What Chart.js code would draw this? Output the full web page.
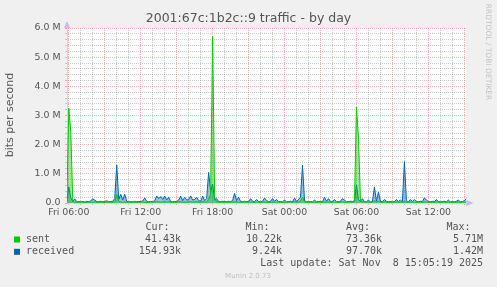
<!DOCTYPE html>
<html>
<head>
<meta charset="utf-8">
<script src="https://cdn.jsdelivr.net/npm/chart.js@4"></script>
<style>
  html, body { margin: 0; padding: 0; background: #F0F0F0; }
  canvas { display: block; }
</style>
</head>
<body>
<canvas id="traffic-chart" width="497" height="287"></canvas>
<script>
// Samples every 10 minutes, starting Fri 05:50 (hours counted from Fri 00:00)
const startHour = 5 + 50 / 60;
const stepHours = 10 / 60;

// received, Mbit/s
const received = [
  0.08,
  0.55, 0.18, 0.05, 0.14, 0.04, 0.05,   // Fri 06
  0.04, 0.05, 0.03, 0.06, 0.04, 0.08,
  0.14, 0.10, 0.05, 0.04, 0.06, 0.04,
  0.05, 0.08, 0.04, 0.05, 0.06, 0.15,
  1.30, 0.12, 0.30, 0.10, 0.30, 0.06,   // Fri 10
  0.04, 0.05, 0.03, 0.06, 0.04, 0.05,
  0.05, 0.07, 0.17, 0.06, 0.04, 0.05,   // Fri 12
  0.04, 0.08, 0.24, 0.15, 0.22, 0.12,
  0.24, 0.10, 0.20, 0.05, 0.04, 0.05,
  0.05, 0.10, 0.24, 0.08, 0.20, 0.10,
  0.12, 0.24, 0.10, 0.12, 0.20, 0.08,
  0.06, 0.24, 0.08, 0.15, 1.05, 0.40,
  0.65, 0.10, 0.15, 0.05, 0.04, 0.06,   // Fri 18
  0.05, 0.04, 0.06, 0.05, 0.08, 0.33,
  0.08, 0.20, 0.05, 0.04, 0.06, 0.05,
  0.05, 0.15, 0.06, 0.04, 0.12, 0.05,
  0.04, 0.06, 0.17, 0.08, 0.05, 0.06,
  0.15, 0.06, 0.12, 0.04, 0.05, 0.04,
  0.10, 0.04, 0.05, 0.06, 0.04, 0.17,   // Sat 00
  0.05, 0.12, 0.20, 1.30, 0.08, 0.05,
  0.04, 0.05, 0.04, 0.10, 0.04, 0.05,
  0.05, 0.04, 0.20, 0.06, 0.15, 0.05,
  0.04, 0.12, 0.05, 0.04, 0.06, 0.15,
  0.10, 0.04, 0.05, 0.06, 0.05, 0.08,
  0.62, 0.12, 0.05, 0.15, 0.05, 0.04,   // Sat 06
  0.10, 0.04, 0.05, 0.55, 0.06, 0.38,
  0.05, 0.04, 0.12, 0.06, 0.04, 0.05,
  0.04, 0.05, 0.12, 0.05, 0.10, 0.04,
  1.42, 0.08, 0.04, 0.12, 0.05, 0.12,
  0.05, 0.04, 0.06, 0.05, 0.18, 0.10,
  0.05, 0.04, 0.06, 0.04, 0.12, 0.05,   // Sat 12
  0.04, 0.05, 0.06, 0.04, 0.10, 0.04,
  0.05, 0.04, 0.06, 0.10, 0.04, 0.05,
  0.08, 0.155
];

// sent, Mbit/s
const sent = [
  0.04,
  3.25, 2.45, 0.05, 0.03, 0.04, 0.03,   // Fri 06
  0.03, 0.04, 0.03, 0.02, 0.04, 0.03,
  0.03, 0.04, 0.02, 0.03, 0.04, 0.03,
  0.02, 0.03, 0.04, 0.03, 0.02, 0.04,
  0.30, 0.05, 0.04, 0.03, 0.04, 0.03,   // Fri 10
  0.03, 0.02, 0.04, 0.03, 0.03, 0.02,
  0.03, 0.04, 0.03, 0.02, 0.03, 0.04,   // Fri 12
  0.03, 0.04, 0.05, 0.04, 0.03, 0.04,
  0.04, 0.03, 0.05, 0.03, 0.02, 0.03,
  0.03, 0.04, 0.05, 0.03, 0.04, 0.03,
  0.04, 0.05, 0.03, 0.04, 0.05, 0.03,
  0.03, 0.05, 0.03, 0.04, 0.12, 0.30,
  5.71, 0.20, 0.04, 0.03, 0.02, 0.03,   // Fri 18
  0.03, 0.02, 0.03, 0.04, 0.03, 0.05,
  0.04, 0.03, 0.02, 0.03, 0.04, 0.03,
  0.03, 0.04, 0.03, 0.02, 0.03, 0.03,
  0.02, 0.03, 0.04, 0.03, 0.02, 0.03,
  0.04, 0.03, 0.03, 0.02, 0.03, 0.02,
  0.03, 0.02, 0.03, 0.04, 0.03, 0.05,   // Sat 00
  0.03, 0.04, 0.06, 0.20, 0.04, 0.03,
  0.02, 0.03, 0.02, 0.03, 0.02, 0.03,
  0.03, 0.02, 0.04, 0.03, 0.04, 0.03,
  0.02, 0.03, 0.03, 0.02, 0.03, 0.04,
  0.03, 0.02, 0.03, 0.04, 0.03, 0.05,
  3.29, 2.26, 0.08, 0.05, 0.04, 0.03,   // Sat 06
  0.04, 0.03, 0.04, 0.08, 0.03, 0.06,
  0.03, 0.02, 0.04, 0.03, 0.02, 0.03,
  0.02, 0.03, 0.04, 0.03, 0.04, 0.03,
  0.06, 0.03, 0.02, 0.04, 0.03, 0.03,
  0.02, 0.03, 0.03, 0.02, 0.05, 0.03,
  0.03, 0.02, 0.03, 0.02, 0.04, 0.03,   // Sat 12
  0.02, 0.03, 0.03, 0.02, 0.03, 0.02,
  0.03, 0.02, 0.03, 0.04, 0.02, 0.03,
  0.03, 0.04
];

const times = received.map((_, i) => startHour + i * stepHours);

// legend table
const seriesNames = ['sent', 'received'];
const seriesColors = ['#00CC00', '#0066B3'];
const statHeaders = ['Cur:', 'Min:', 'Avg:', 'Max:'];
const statValues = [
  ['41.43k', '10.22k', '73.36k', '5.71M'],
  ['154.93k', '9.24k', '97.70k', '1.42M']
];
const lastUpdate = 'Last update: Sat Nov  8 15:05:19 2025';
const chartTitle = '2001:67c:1b2c::9 traffic - by day';
const yTitle = 'bits per second';

const gridColor = 'rgba(140, 140, 140, 0.45)';
const majorGridColor = 'rgba(240, 110, 110, 0.55)';
const axisColor = '#CFD6F8';
const fontColor = '#555555';

function isWhole(v) {
  return Math.abs(v - Math.round(v)) < 1e-6;
}

const muninDecor = {
  id: 'muninDecor',
  beforeDraw(chart) {
    const { ctx, chartArea: a } = chart;
    ctx.save();
    ctx.fillStyle = '#F0F0F0';
    ctx.fillRect(0, 0, chart.width, chart.height);
    ctx.fillStyle = '#FFFFFF';
    ctx.fillRect(a.left, a.top, a.right - a.left, a.bottom - a.top);
    ctx.restore();
  },
  afterDraw(chart) {
    const { ctx, chartArea: a } = chart;
    ctx.save();
    ctx.fillStyle = fontColor;
    ctx.textBaseline = 'middle';

    // title
    ctx.font = '12.5px "DejaVu Sans"';
    ctx.textAlign = 'center';
    ctx.fillText(chartTitle, 248.5, 19);

    // y axis title
    ctx.save();
    ctx.translate(10, 115);
    ctx.rotate(-Math.PI / 2);
    ctx.font = '11px "DejaVu Sans"';
    ctx.fillText(yTitle, 0, 0);
    ctx.restore();

    // rrdtool credit
    ctx.save();
    ctx.translate(488, 52);
    ctx.rotate(Math.PI / 2);
    ctx.font = '7.5px "DejaVu Sans"';
    ctx.fillStyle = '#C4C4C4';
    ctx.fillText('RRDTOOL / TOBI OETIKER', 0, 0);
    ctx.restore();

    // axis arrows
    ctx.fillStyle = '#B8C0F4';
    ctx.beginPath();
    ctx.moveTo(a.right, a.bottom - 3);
    ctx.lineTo(a.right + 7, a.bottom);
    ctx.lineTo(a.right, a.bottom + 3);
    ctx.fill();
    ctx.beginPath();
    ctx.moveTo(a.left - 3, a.top);
    ctx.lineTo(a.left, a.top - 7);
    ctx.lineTo(a.left + 3, a.top);
    ctx.fill();

    // legend
    ctx.fillStyle = fontColor;
    ctx.font = '10px "DejaVu Sans Mono"';
    ctx.textAlign = 'left';
    const headerX = [145.5, 245.5, 346, 446.5];
    const valueRight = [181, 282, 382, 483];
    statHeaders.forEach((h, i) => ctx.fillText(h, headerX[i], 227.5));
    seriesNames.forEach((name, r) => {
      const y = 239.5 + r * 12.3;
      ctx.fillStyle = seriesColors[r];
      ctx.fillRect(14, y - 3, 6, 6);
      ctx.fillStyle = fontColor;
      ctx.textAlign = 'left';
      ctx.fillText(name, 26, y);
      ctx.textAlign = 'right';
      statValues[r].forEach((v, i) => ctx.fillText(v, valueRight[i], y));
    });
    ctx.textAlign = 'right';
    ctx.fillText(lastUpdate, 483, 263.5);

    ctx.textAlign = 'center';
    ctx.fillStyle = '#C0C0C0';
    ctx.font = '7px "DejaVu Sans"';
    ctx.fillText('Munin 2.0.73', 248, 276);
    ctx.restore();
  }
};

const canvas = document.getElementById('traffic-chart');
const chart = new Chart(canvas, {
  type: 'line',
  data: {
    datasets: [{
      label: 'sent',
      data: sent.map((v, i) => ({ x: times[i], y: v })),
      borderColor: '#00CC00',
      backgroundColor: 'rgba(0, 204, 0, 0.4)',
      borderWidth: 1,
      fill: 'origin',
      pointRadius: 0,
      tension: 0,
      order: 0
    }, {
      label: 'received',
      data: received.map((v, i) => ({ x: times[i], y: v })),
      borderColor: '#0066B3',
      backgroundColor: 'rgba(0, 102, 179, 0.4)',
      borderWidth: 1,
      fill: 'origin',
      pointRadius: 0,
      tension: 0,
      order: 1
    }]
  },
  options: {
    responsive: false,
    devicePixelRatio: 1,
    animation: false,
    layout: { padding: { top: 28, right: 30.5, left: 0, bottom: 0 } },
    plugins: {
      legend: { display: false },
      title: { display: false },
      tooltip: { enabled: false }
    },
    scales: {
      x: {
        type: 'linear',
        min: 5.85,
        max: 39.18,
        afterFit: (scale) => { scale.height = 84; },
        border: { display: true, color: axisColor, dash: [1, 1] },
        grid: {
          color: (c) => (c.tick && isWhole(c.tick.value / 3) ? majorGridColor : gridColor),
          tickLength: 2,
          tickBorderDash: []
        },
        ticks: {
          stepSize: 1,
          autoSkip: false,
          maxRotation: 0,
          includeBounds: false,
          padding: 2,
          color: fontColor,
          font: { family: 'DejaVu Sans', size: 9.4 },
          callback: (v) => {
            if (!isWhole(v / 6)) return '';
            const day = v < 24 ? 'Fri' : 'Sat';
            const h = Math.round(v) % 24;
            return day + ' ' + String(h).padStart(2, '0') + ':00';
          }
        }
      },
      y: {
        min: 0,
        max: 6,
        afterFit: (scale) => { scale.width = 67; },
        border: { display: true, color: axisColor, dash: [1, 1] },
        grid: {
          color: (c) => (c.tick && isWhole(c.tick.value) ? majorGridColor : gridColor),
          tickLength: 2,
          tickBorderDash: []
        },
        ticks: {
          stepSize: 0.2,
          autoSkip: false,
          padding: 4.5,
          color: fontColor,
          font: { family: 'DejaVu Sans', size: 9.4 },
          callback: (v) => {
            if (!isWhole(v)) return '';
            const n = Math.round(v);
            return n === 0 ? '0.0' : n + '.0 M';
          }
        }
      }
    }
  },
  plugins: [muninDecor]
});
</script>
</body>
</html>
